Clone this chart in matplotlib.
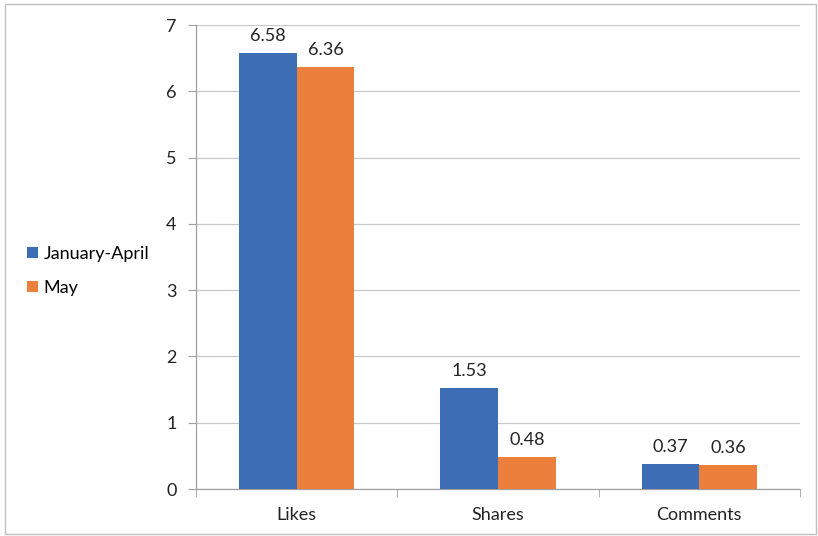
import matplotlib.pyplot as plt
from matplotlib.patches import Rectangle

# engagement per post, grouped by metric
categories = ["Likes", "Shares", "Comments"]
jan_apr = [6.58, 1.53, 0.37]
may = [6.36, 0.48, 0.36]
series_names = ["January-April", "May"]

blue = "#3d6db5"
orange = "#ec7f3c"

plt.rcParams['font.family'] = ['Lato', 'DejaVu Sans']

fig = plt.figure(figsize=(8.18, 5.36), dpi=100)
ax = fig.add_axes([196 / 818, 1 - 489 / 536, 604 / 818, 464 / 536])

w = 0.286
xs = range(len(categories))
b1 = ax.bar([x - w / 2 for x in xs], jan_apr, width=w, color=blue, label=series_names[0], zorder=3)
b2 = ax.bar([x + w / 2 for x in xs], may, width=w, color=orange, label=series_names[1], zorder=3)

for bars, vals in ((b1, jan_apr), (b2, may)):
    for bar, v in zip(bars, vals):
        ax.annotate(f"{v:.2f}", (bar.get_x() + bar.get_width() / 2, v),
                    xytext=(0, 6.5), textcoords="offset points",
                    ha="center", va="bottom", fontsize=13, color="#222222")

ax.set_xlim(-0.5, 2.5)
ax.set_ylim(0, 7)
ax.set_yticks(range(8))
ax.tick_params(axis="y", length=6, color="#a0a0a0", labelsize=13, pad=8, labelcolor="#222222")
ax.set_xticks(list(xs))
ax.set_xticklabels(categories)
ax.tick_params(axis="x", length=0, labelsize=13, pad=13, labelcolor="#222222")
# category boundary ticks under the axis
ax.set_xticks([-0.5, 0.5, 1.5, 2.5], minor=True)
ax.tick_params(axis="x", which="minor", length=6, color="#a0a0a0")

ax.grid(axis="y", color="#c8c8c8", linewidth=0.9, zorder=0)
for s in ("top", "right"):
    ax.spines[s].set_visible(False)
for s in ("left", "bottom"):
    ax.spines[s].set_color("#a0a0a0")
    ax.spines[s].set_linewidth(0.9)

fig.legend(handles=[b1, b2], labels=series_names, loc="center left",
           bbox_to_anchor=(11 / 818, 1 - 271 / 536), frameon=False,
           fontsize=13, handlelength=0.6, handleheight=0.6,
           handletextpad=0.3, labelspacing=1.0)

# outer chart frame
fig.patches.append(Rectangle((5 / 818, 2 / 536), 811 / 818, 530 / 536,
                             transform=fig.transFigure, fill=False,
                             edgecolor="#bfbfbf", linewidth=1))

fig.savefig("out.png", dpi=100)
